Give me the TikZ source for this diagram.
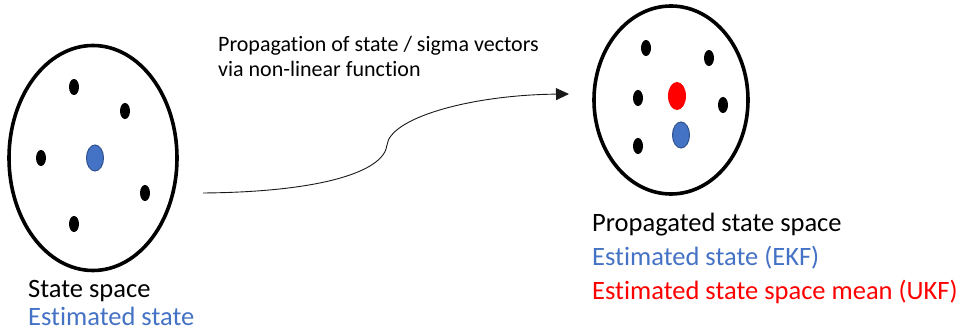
\documentclass[tikz,border=0pt]{standalone}
\usepackage{fontspec}
\setmainfont[Ligatures=NoCommon]{Carlito}
\usetikzlibrary{shapes.geometric, arrows.meta}
\definecolor{estblue}{HTML}{4472C4}
\definecolor{estedge}{HTML}{2F528F}

\begin{document}
\begin{tikzpicture}[
  x=1pt, y=-1pt,
  space/.style={ellipse, draw, line width=3.6pt, inner sep=0pt},
  sigma/.style={ellipse, fill=black, minimum width=10pt, minimum height=16pt, inner sep=0pt},
  estim/.style={ellipse, fill=estblue, draw=estedge, line width=1pt, minimum width=17pt, minimum height=26pt, inner sep=0pt},
  mean/.style={ellipse, fill=red, minimum width=18pt, minimum height=28pt, inner sep=0pt},
  label/.style={anchor=base west, inner sep=0pt, font=\fontsize{26.5}{30}\selectfont},
  flow/.style={draw=black!90, line width=0.9pt, -{Triangle[length=13pt, width=12pt]}}
]
  \useasboundingbox (0,0) rectangle (959,331);

  % State space before propagation
  \node[space, minimum width=168pt, minimum height=225pt] (s0) at (93,158) {};
  \node[sigma] (s0a) at (74,87) {};
  \node[sigma] (s0b) at (125,111) {};
  \node[sigma] (s0c) at (41,158) {};
  \node[sigma] (s0d) at (145,193) {};
  \node[sigma] (s0e) at (74,224) {};
  \node[estim] (s0x) at (95,158) {};

  % Propagated state space
  \node[space, minimum width=154pt, minimum height=188pt] (s1) at (671,100) {};
  \node[sigma] (s1a) at (646,48) {};
  \node[sigma] (s1b) at (709,58) {};
  \node[sigma] (s1c) at (638,98) {};
  \node[sigma] (s1d) at (723,105) {};
  \node[sigma] (s1e) at (638,146) {};
  \node[mean] (s1m) at (677,96) {};
  \node[estim] (s1x) at (681,135) {};

  % Non-linear function
  \coordinate (from) at (203,193);
  \coordinate (kink) at (387,145);
  \coordinate (to) at (569,94);
  \draw[flow] (from) .. controls (320,192) and (384,172) .. (kink)
    .. controls (390,118) and (470,95) .. (to);
  \node[anchor=base west, inner sep=0pt, align=left,
    font=\fontsize{22}{25}\selectfont] (fn) at (218,77)
    {Propagation of state / sigma vectors\\via non-linear function};

  % Labels
  \node[label] (l0) at (28,298) {State space};
  \node[label, text=estblue] (l0x) at (28,325) {Estimated state};
  \node[label] (l1) at (592,232) {Propagated state space};
  \node[label, text=estblue] (l1x) at (592,266) {Estimated state (EKF)};
  \node[label, text=red] (l1m) at (592,300) {Estimated state space mean (UKF)};
\end{tikzpicture}
\end{document}
